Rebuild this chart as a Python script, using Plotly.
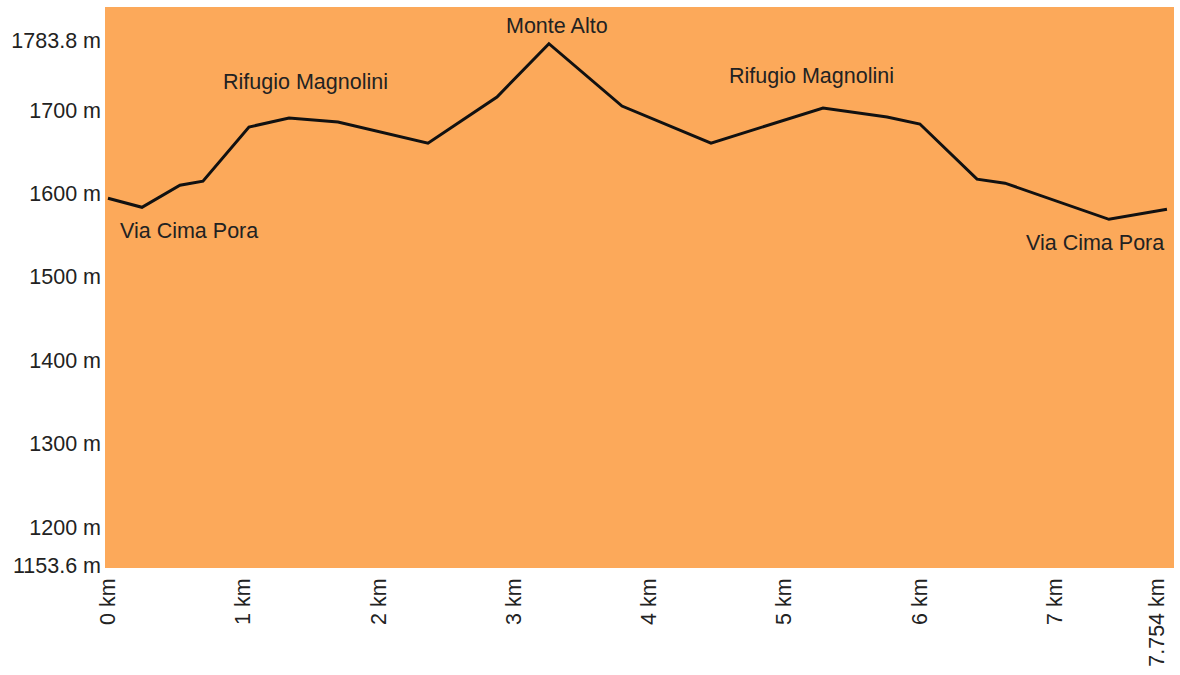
import plotly.graph_objects as go

# Elevation profile data (distance in km, elevation in m)
dist_km = [0.0, 0.251, 0.532, 0.702, 1.042, 1.338, 1.700, 2.365, 2.875, 3.259,
           3.799, 4.457, 5.285, 5.758, 6.001, 6.423, 6.630, 7.398, 7.827]
elev_m = [1594.2, 1583.4, 1609.9, 1614.7, 1679.6, 1690.4, 1685.6, 1660.3, 1715.6, 1779.5,
          1704.8, 1660.3, 1702.4, 1691.6, 1683.2, 1617.1, 1612.3, 1569.0, 1581.0]

# Place names along the route
place_names = ["Via Cima Pora", "Rifugio Magnolini", "Monte Alto", "Rifugio Magnolini", "Via Cima Pora"]
place_km = [0.599, 1.463, 3.319, 5.203, 7.295]
place_m = [1555.0, 1733.5, 1801.0, 1740.5, 1540.5]

# Axis ticks
y_tickvals = [1153.6, 1200, 1300, 1400, 1500, 1600, 1700, 1783.8]
y_ticktext = ["1153.6 m", "1200 m", "1300 m", "1400 m", "1500 m", "1600 m", "1700 m", "1783.8 m"]
x_tickvals = [0, 1, 2, 3, 4, 5, 6, 7, 7.754]
x_ticktext = ["0 km", "1 km", "2 km", "3 km", "4 km", "5 km", "6 km", "7 km", "7.754 km"]

FONT = "Liberation Sans, Arial, sans-serif"
FS = 21.5

fig = go.Figure()
fig.add_trace(go.Scatter(
    x=dist_km, y=elev_m, mode="lines",
    line=dict(color="#111111", width=3),
    hoverinfo="x+y", showlegend=False,
))

for name, xk, ym in zip(place_names, place_km, place_m):
    fig.add_annotation(x=xk, y=ym, text=name, showarrow=False,
                       xanchor="center", yanchor="middle",
                       font=dict(family=FONT, size=FS, color="#222222"))

fig.update_layout(
    width=1180, height=675,
    margin=dict(l=105, r=6, t=7, b=107),
    paper_bgcolor="white",
    plot_bgcolor="#FCA95A",
    showlegend=False,
    font=dict(family=FONT, size=FS, color="#222222"),
    xaxis=dict(range=[-0.022, 7.879], tickvals=x_tickvals, ticktext=x_ticktext,
               tickangle=-90, showgrid=False, zeroline=False, showline=False,
               ticks="", automargin=False, ticklabelstandoff=5,
               tickfont=dict(family=FONT, size=FS, color="#222222")),
    yaxis=dict(range=[1151, 1823.5], tickvals=y_tickvals, ticktext=y_ticktext,
               showgrid=False, zeroline=False, showline=False, ticks="",
               automargin=False, ticklabelstandoff=3,
               tickfont=dict(family=FONT, size=FS, color="#222222")),
)

fig.write_html(
    "out.html",
    config={"responsive": False, "displayModeBar": False},
    post_script="document.body.style.margin='0';document.body.style.overflow='hidden';",
)
